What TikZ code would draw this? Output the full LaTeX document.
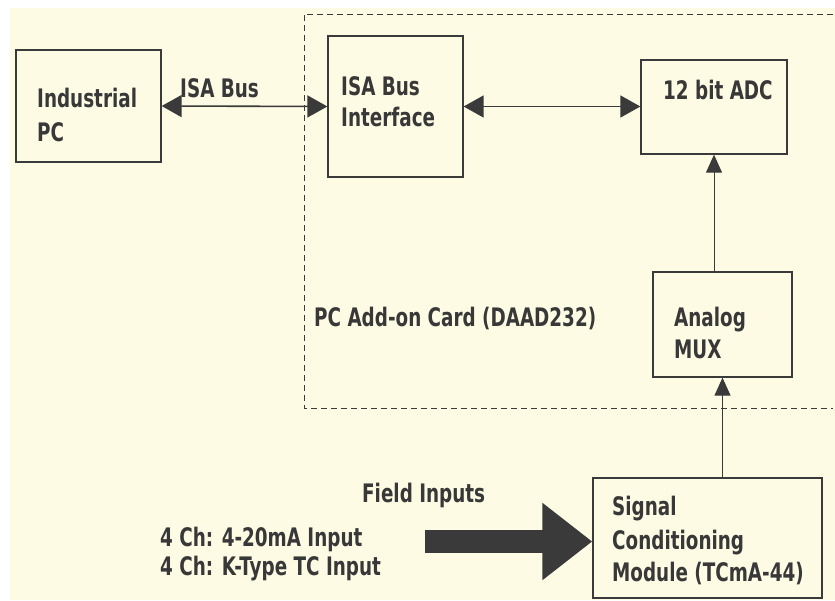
\documentclass[tikz,border=0pt]{standalone}
\usepackage{fontspec}
\setmainfont{DejaVu Sans}[FakeStretch=0.72]
\usetikzlibrary{arrows.meta}
\definecolor{cream}{HTML}{FDFBE4}
\definecolor{ink}{HTML}{3A3A3A}
\definecolor{txt}{HTML}{383838}
\begin{document}
\begin{tikzpicture}[x=1pt,y=-1pt,
  box/.style={draw=ink, line width=1.3pt, rectangle, inner sep=0pt},
  lbl/.style={anchor=base west, inner sep=0pt, text=txt, font=\fontsize{25.5}{30}\selectfont\bfseries},
  conn/.style={draw=ink, line width=1.6pt, >={Triangle[length=20pt,width=22pt]}},
  upconn/.style={draw=ink, line width=1pt, >={Triangle[length=18pt,width=16pt]}},
]
\useasboundingbox (0,0) rectangle (835,600);
\fill[white] (0,0) rectangle (835,600);
\fill[cream] (10,8) rectangle (835,600);
% dashed card outline
\draw[ink, line width=1pt, dash pattern=on 6pt off 4pt] (833,14) -- (304,14) -- (304,408) -- (833,408);
% boxes
\node[box, minimum width=145pt, minimum height=112pt] (pc) at (88.5,106) {};
\node[box, minimum width=135pt, minimum height=141pt] (isa) at (395.5,106.5) {};
\node[box, minimum width=146pt, minimum height=94pt] (adc) at (714,107) {};
\node[box, minimum width=139pt, minimum height=105pt] (mux) at (722.5,324.5) {};
\node[box, minimum width=229pt, minimum height=120pt] (sig) at (707.5,538) {};
% texts
\node[lbl] (t1) at (37,107) {Industrial};
\node[lbl] (t2) at (37,141) {PC};
\node[lbl] (t3) at (180,97) {ISA Bus};
\node[lbl] (t4) at (341,95) {ISA Bus};
\node[lbl] (t5) at (341,126) {Interface};
\node[lbl] (t6) at (663,99) {12 bit ADC};
\node[lbl] (t7) at (314,326) {PC Add-on Card (DAAD232)};
\node[lbl] (t8) at (674,326) {Analog};
\node[lbl] (t9) at (674,358) {MUX};
\node[lbl] (t10) at (362,502) {Field Inputs};
\node[lbl] (t11) at (160,546) {4 Ch: 4-20mA Input};
\node[lbl] (t12) at (160,575) {4 Ch: K-Type TC Input};
\node[lbl] (t13) at (612,515) {Signal};
\node[lbl] (t14) at (612,549) {Conditioning};
\node[lbl] (t15) at (612,581) {Module (TCmA-44)};
% connectors
\draw[conn, <->] (pc.east) -- (isa.west);
\draw[conn, <->] (isa.east) -- (adc.west |- isa.east);
\draw[upconn, ->] (mux.north -| adc.south) -- (adc.south);
\draw[upconn, ->] (sig.north -| mux.south) -- (mux.south);
\coordinate (fin) at (425,541.5);
\draw[draw=ink, fill=ink, line width=23pt, -{Triangle[length=50pt,width=74pt]}] (fin) -- (fin -| sig.west);
\end{tikzpicture}
\end{document}
